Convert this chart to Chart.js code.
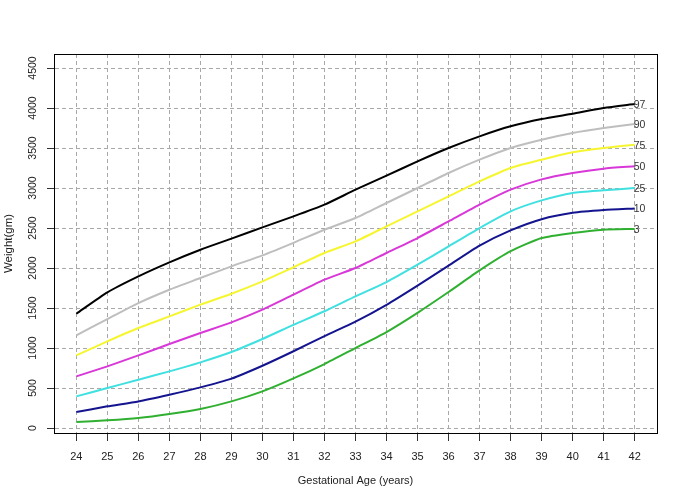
<!DOCTYPE html>
<html>
<head>
<meta charset="utf-8">
<script src="https://cdn.jsdelivr.net/npm/chart.js@4/dist/chart.umd.min.js"></script>
<style>
  html, body { margin: 0; padding: 0; background: #fff; }
  #wrap { width: 685px; height: 502px; position: relative; }
</style>
</head>
<body>
<div id="wrap"><canvas id="chart"></canvas></div>
<script>
// ---- data ----
const ages = [24, 25, 26, 27, 28, 29, 30, 31, 32, 33, 34, 35, 36, 37, 38, 39, 40, 41, 42];
const yTicks = [0, 500, 1000, 1500, 2000, 2500, 3000, 3500, 4000, 4500];

const p97 = [1429, 1696, 1896, 2071, 2229, 2367, 2508, 2645, 2792, 2979, 3154, 3333, 3500, 3646, 3771, 3862, 3929, 4000, 4050];
const p90 = [1158, 1362, 1562, 1729, 1875, 2021, 2158, 2315, 2479, 2625, 2813, 3000, 3188, 3354, 3500, 3604, 3688, 3750, 3800];
const p75 = [908, 1083, 1250, 1396, 1542, 1679, 1833, 2010, 2188, 2333, 2521, 2708, 2896, 3083, 3250, 3354, 3446, 3500, 3542];
const p50 = [646, 771, 908, 1050, 1188, 1321, 1479, 1667, 1854, 2000, 2188, 2375, 2583, 2792, 2979, 3108, 3188, 3242, 3271];
const p25 = [396, 500, 604, 708, 821, 950, 1113, 1290, 1460, 1646, 1825, 2042, 2271, 2500, 2708, 2845, 2938, 2971, 3000];
const p10 = [200, 271, 333, 417, 508, 617, 779, 960, 1150, 1330, 1540, 1780, 2030, 2280, 2470, 2610, 2690, 2725, 2745];
const p3  = [75, 96, 125, 175, 238, 333, 458, 620, 800, 1000, 1200, 1440, 1700, 1970, 2210, 2375, 2438, 2479, 2488];

const seriesLabels = ['97', '90', '75', '50', '25', '10', '3'];
const seriesData = [p97, p90, p75, p50, p25, p10, p3];
const seriesColors = ['#000000', '#bebebe', '#f6f630', '#d838d8', '#40e0e0', '#14148f', '#30b030'];

const FONT = 'Liberation Sans, Arial, sans-serif';

// box around plot + rotated y tick labels + percentile labels
const extras = {
  id: 'extras',
  afterDraw(chart) {
    const { ctx, chartArea: a } = chart;
    ctx.save();
    ctx.strokeStyle = '#000';
    ctx.lineWidth = 1;
    ctx.strokeRect(Math.round(a.left) + 0.5, Math.round(a.top) + 0.5,
      Math.round(a.right - a.left), Math.round(a.bottom - a.top));

    // y tick labels, rotated like the original
    const ys = chart.scales.y;
    ctx.fillStyle = '#222';
    ctx.font = '10.5px ' + FONT;
    ctx.textAlign = 'center';
    ctx.textBaseline = 'middle';
    ys.ticks.forEach(t => {
      const py = ys.getPixelForValue(t.value);
      ctx.save();
      ctx.translate(33, py);
      ctx.rotate(-Math.PI / 2);
      ctx.fillText(String(t.value), 0, 0);
      ctx.restore();
    });

    // percentile tags at line ends
    ctx.textAlign = 'left';
    ctx.fillStyle = '#333';
    ctx.font = '10.5px ' + FONT;
    chart.data.datasets.forEach((ds, i) => {
      const meta = chart.getDatasetMeta(i);
      const pt = meta.data[meta.data.length - 1];
      ctx.fillText(ds.label, pt.x - 1, pt.y + 1);
    });
    ctx.restore();
  }
};

new Chart(document.getElementById('chart'), {
  type: 'line',
  data: {
    datasets: seriesData.map((vals, i) => ({
      label: seriesLabels[i],
      data: ages.map((a, j) => ({ x: a, y: vals[j] })),
      borderColor: seriesColors[i],
      borderWidth: 2,
      pointRadius: 0,
      tension: 0.2,
      fill: false
    }))
  },
  options: {
    responsive: true,
    maintainAspectRatio: false,
    animation: false,
    layout: { padding: { top: 54, right: 28, left: 0, bottom: 0 } },
    plugins: { legend: { display: false }, tooltip: { enabled: false } },
    scales: {
      x: {
        type: 'linear',
        min: 23.28,
        max: 42.72,
        afterBuildTicks: s => { s.ticks = ages.map(v => ({ value: v })); },
        afterFit: s => { s.height = 69; },
        grid: { color: '#a8a8a8', tickColor: '#333', tickLength: 8, tickBorderDash: [] },
        border: { display: true, color: '#000', dash: [4, 3] },
        ticks: { color: '#222', font: { family: FONT, size: 11 }, padding: 9, maxRotation: 0, autoSkip: false },
        title: { display: true, text: 'Gestational Age (years)', color: '#222',
                 font: { family: FONT, size: 11 }, padding: { top: 0, bottom: 14 } }
      },
      y: {
        type: 'linear',
        min: -62,
        max: 4675,
        afterBuildTicks: s => { s.ticks = yTicks.map(v => ({ value: v })); },
        afterFit: s => { s.width = 54; },
        grid: { color: '#a8a8a8', tickColor: '#333', tickLength: 7, tickBorderDash: [] },
        border: { display: true, color: '#000', dash: [4, 3] },
        ticks: { display: false },
        title: { display: true, text: 'Weight(gm)', color: '#222',
                 font: { family: FONT, size: 11.5 }, padding: { top: 2, bottom: 0 } }
      }
    }
  },
  plugins: [extras]
});
</script>
</body>
</html>
